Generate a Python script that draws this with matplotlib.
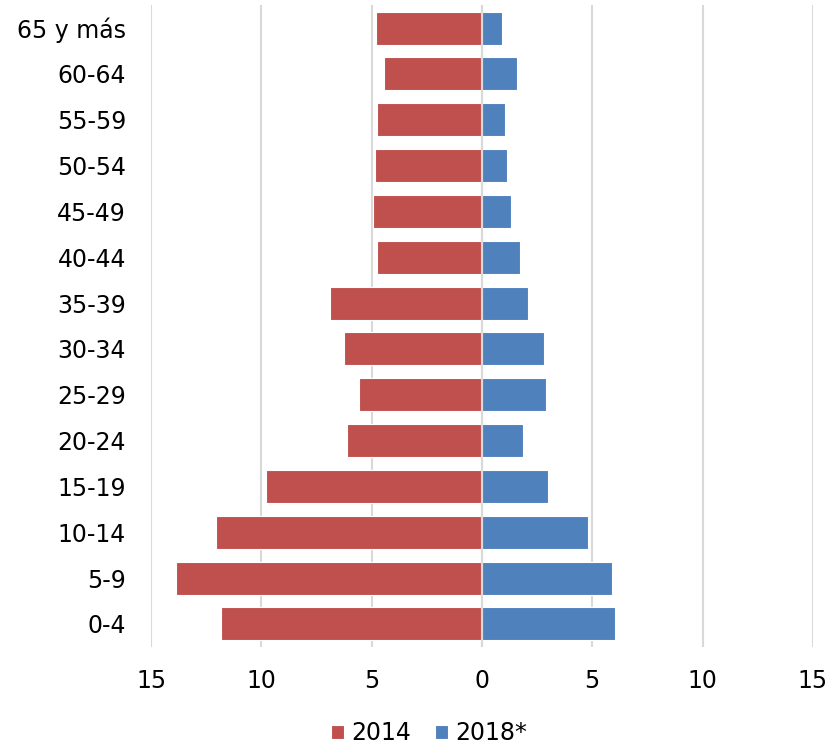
import numpy as np
import matplotlib.pyplot as plt

grupos = ["0-4", "5-9", "10-14", "15-19", "20-24", "25-29", "30-34",
          "35-39", "40-44", "45-49", "50-54", "55-59", "60-64", "65 y más"]
v2014 = [11.85, 13.85, 12.05, 9.8, 6.1, 5.55, 6.25, 6.9, 4.75, 4.95, 4.85, 4.75, 4.45, 4.8]
v2018 = [6.05, 5.9, 4.82, 3.0, 1.87, 2.9, 2.82, 2.1, 1.73, 1.32, 1.14, 1.05, 1.57, 0.92]
ticks = [-15, -10, -5, 0, 5, 10, 15]

fig = plt.figure(figsize=(8.33, 7.46), dpi=100)
ax = fig.add_axes([0.1813, 0.133, 0.7945, 0.86])

y = np.arange(len(grupos))
ax.barh(y, [-v for v in v2014], height=0.72, color="#C0504D", edgecolor="white",
        linewidth=0.8, label="2014", zorder=2)
ax.barh(y, v2018, height=0.72, color="#4F81BD", edgecolor="white",
        linewidth=0.8, label="2018*", zorder=2)

ax.set_xlim(-15, 15)
ax.set_ylim(-0.5, len(grupos) - 0.5)
ax.set_xticks(ticks)
ax.set_xticklabels([str(abs(t)) for t in ticks])
ax.set_yticks(y)
ax.set_yticklabels(grupos)
ax.xaxis.grid(True, color="#D9D9D9", linewidth=1.5, zorder=0)
ax.axvline(0, color="#D9D9D9", linewidth=1.5, zorder=3)
ax.set_axisbelow(True)
for s in ax.spines.values():
    s.set_visible(False)
ax.tick_params(axis="both", length=0, labelsize=17, colors="black")
ax.tick_params(axis="x", pad=16)
ax.tick_params(axis="y", pad=18)

ax.legend(loc="center", bbox_to_anchor=(0.42, -0.135), ncol=2, frameon=False,
          fontsize=17, handlelength=0.55, handleheight=0.55, handletextpad=0.3,
          columnspacing=1.0)

plt.savefig("out.png", dpi=100)
